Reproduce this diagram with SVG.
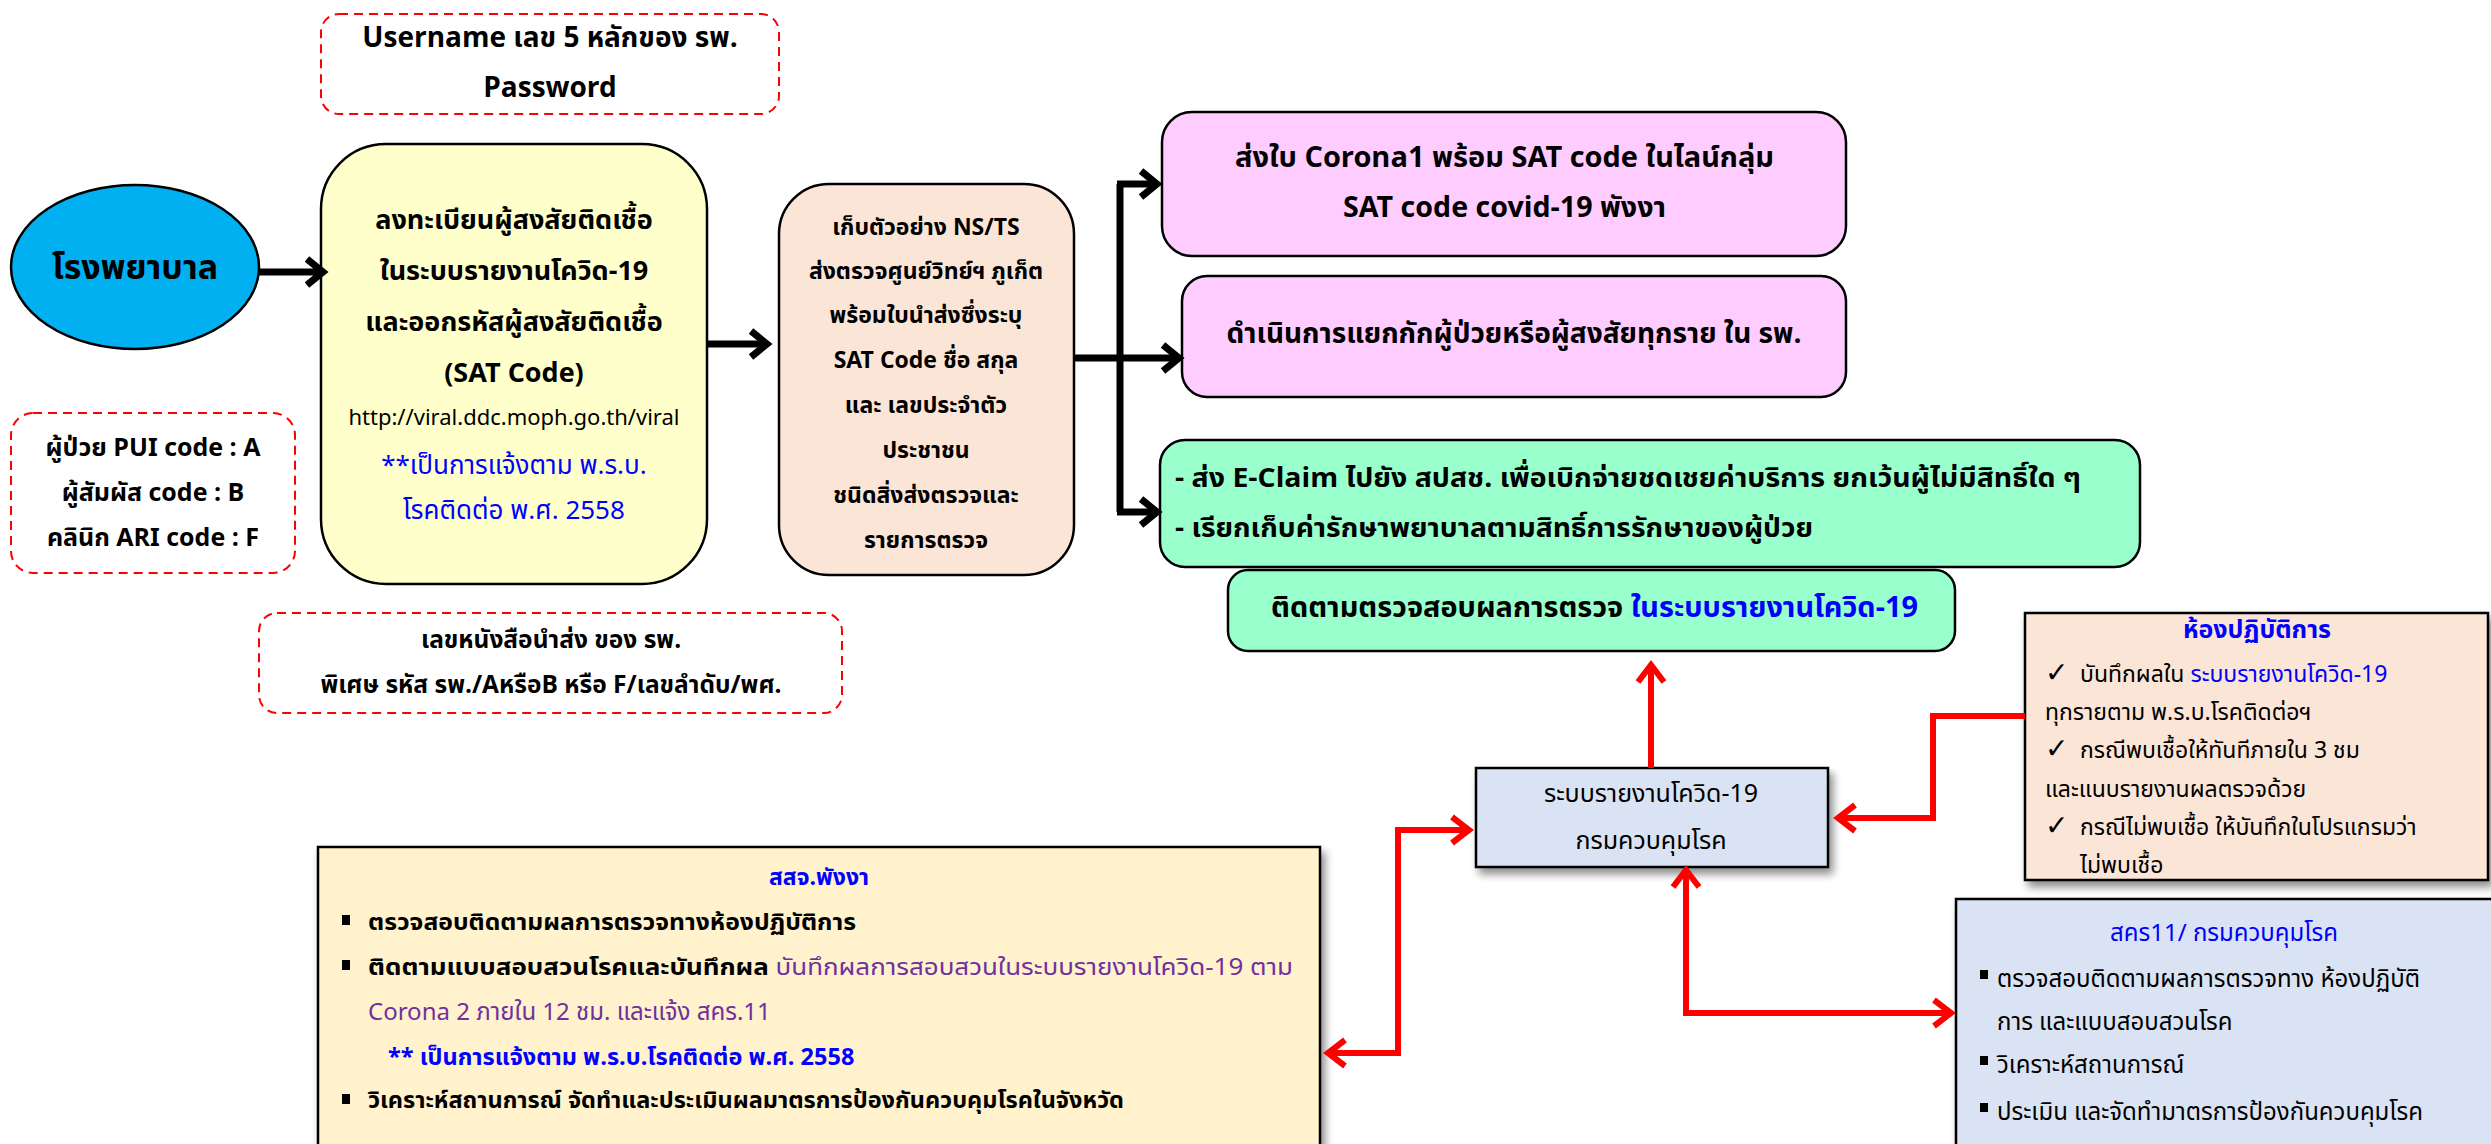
<svg xmlns="http://www.w3.org/2000/svg" width="2491" height="1144" viewBox="0 0 2491 1144">
<defs>
<style>
text{font-family:"Noto Sans Thai","Noto Sans Thai UI","Noto Sans","DejaVu Sans",sans-serif;fill:#000}
.b{font-weight:bold}
.n{font-weight:normal}
.c{text-anchor:middle}
.blue{fill:#0000FF}
.pur{fill:#7030A0}
.dash{fill:none;stroke:#FF0000;stroke-width:2;stroke-dasharray:9 6}
.box{stroke:#000;stroke-width:2.5}
.blk{fill:none;stroke:#000;stroke-width:7}
.red{fill:none;stroke:#FF0000;stroke-width:6}
</style>
<marker id="ab" viewBox="-30 -20 40 40" refX="0" refY="0" markerWidth="40" markerHeight="40" markerUnits="userSpaceOnUse" orient="auto-start-reverse" overflow="visible">
<path d="M-16,-13 L0,0 L-16,13" fill="none" stroke="#000" stroke-width="7"/>
</marker>
<marker id="ar" viewBox="-30 -20 40 40" refX="0" refY="0" markerWidth="40" markerHeight="40" markerUnits="userSpaceOnUse" orient="auto-start-reverse" overflow="visible">
<path d="M-17,-13 L0,0 L-17,13" fill="none" stroke="#FF0000" stroke-width="6"/>
</marker>
<filter id="sh" x="-5%" y="-5%" width="115%" height="125%">
<feGaussianBlur in="SourceAlpha" stdDeviation="4"/>
<feOffset dx="4" dy="6" result="o"/>
<feComponentTransfer><feFuncA type="linear" slope="0.45"/></feComponentTransfer>
<feMerge><feMergeNode/><feMergeNode in="SourceGraphic"/></feMerge>
</filter>
</defs>
<rect width="2491" height="1144" fill="#fff"/>

<g id="login-note">
<rect class="dash" x="321" y="14" width="458" height="100" rx="18"/>
<text class="c b" x="550" y="47" font-size="28">Username เลข 5 หลักของ รพ.</text>
<text class="c b" x="550" y="97" font-size="28">Password</text>
</g>

<g id="hospital">
<ellipse cx="135" cy="267" rx="124" ry="82" fill="#00B0F0" stroke="#000" stroke-width="2.5"/>
<text class="c b" x="135" y="279" font-size="34">โรงพยาบาล</text>
</g>

<g id="code-note">
<rect class="dash" x="11" y="413" width="284" height="160" rx="22"/>
<text class="c b" x="153" y="456" font-size="25">ผู้ป่วย PUI code : A</text>
<text class="c b" x="153" y="501" font-size="25">ผู้สัมผัส code : B</text>
<text class="c b" x="153" y="546" font-size="25">คลินิก ARI code : F</text>
</g>

<g id="register">
<rect class="box" x="321" y="144" width="386" height="440" rx="65" fill="#FFFFCC"/>
<text class="c b" x="514" y="229" font-size="27">ลงทะเบียนผู้สงสัยติดเชื้อ</text>
<text class="c b" x="514" y="280" font-size="27">ในระบบรายงานโควิด-19</text>
<text class="c b" x="514" y="331" font-size="27">และออกรหัสผู้สงสัยติดเชื้อ</text>
<text class="c b" x="514" y="382" font-size="27">(SAT Code)</text>
<text class="c" x="514" y="425" font-size="22">http://viral.ddc.moph.go.th/viral</text>
<text class="c blue" x="514" y="474" font-size="26">**เป็นการแจ้งตาม พ.ร.บ.</text>
<text class="c blue" x="514" y="519" font-size="26">โรคติดต่อ พ.ศ. 2558</text>
</g>

<g id="letter-note">
<rect class="dash" x="259" y="613" width="583" height="100" rx="18"/>
<text class="c b" x="551" y="648" font-size="24.5">เลขหนังสือนำส่ง ของ รพ.</text>
<text class="c b" x="551" y="693" font-size="24.5">พิเศษ รหัส รพ./AหรือB หรือ F/เลขลำดับ/พศ.</text>
</g>

<g id="specimen">
<rect class="box" x="779" y="184" width="295" height="391" rx="50" fill="#FBE5D6"/>
<text class="c b" x="926" y="235" font-size="23">เก็บตัวอย่าง NS/TS</text>
<text class="c b" x="926" y="279" font-size="23">ส่งตรวจศูนย์วิทย์ฯ ภูเก็ต</text>
<text class="c b" x="926" y="323" font-size="23">พร้อมใบนำส่งซึ่งระบุ</text>
<text class="c b" x="926" y="368" font-size="23">SAT Code ชื่อ สกุล</text>
<text class="c b" x="926" y="413" font-size="23">และ เลขประจำตัว</text>
<text class="c b" x="926" y="458" font-size="23">ประชาชน</text>
<text class="c b" x="926" y="503" font-size="23">ชนิดสิ่งส่งตรวจและ</text>
<text class="c b" x="926" y="548" font-size="23">รายการตรวจ</text>
</g>

<g id="line-group">
<rect class="box" x="1162" y="112" width="684" height="144" rx="30" fill="#FFCCFF"/>
<text class="b" x="1235" y="167" font-size="29" textLength="539" lengthAdjust="spacingAndGlyphs">ส่งใบ Corona1 พร้อม SAT code ในไลน์กลุ่ม</text>
<text class="b" x="1343" y="217" font-size="28" textLength="323" lengthAdjust="spacingAndGlyphs">SAT code covid-19 พังงา</text>
</g>

<g id="isolate">
<rect class="box" x="1182" y="276" width="664" height="121" rx="25" fill="#FFCCFF"/>
<text class="c b" x="1514" y="343" font-size="28">ดำเนินการแยกกักผู้ป่วยหรือผู้สงสัยทุกราย ใน รพ.</text>
</g>

<g id="claim">
<rect class="box" x="1160" y="440" width="980" height="127" rx="25" fill="#99FFCC"/>
<text class="b" x="1175" y="487" font-size="27" textLength="906" lengthAdjust="spacingAndGlyphs">- ส่ง E-Claim ไปยัง สปสช. เพื่อเบิกจ่ายชดเชยค่าบริการ ยกเว้นผู้ไม่มีสิทธิ์ใด ๆ</text>
<text class="b" x="1175" y="537" font-size="27" textLength="638" lengthAdjust="spacingAndGlyphs">- เรียกเก็บค่ารักษาพยาบาลตามสิทธิ์การรักษาของผู้ป่วย</text>
</g>

<g id="follow-up">
<rect class="box" x="1228" y="570" width="727" height="81" rx="20" fill="#99FFCC"/>
<text class="b" x="1271" y="617" font-size="28" textLength="647" lengthAdjust="spacingAndGlyphs">ติดตามตรวจสอบผลการตรวจ <tspan class="blue">ในระบบรายงานโควิด-19</tspan></text>
</g>

<g id="report-system">
<rect class="box" x="1476" y="768" width="352" height="99" fill="#DAE3F3" filter="url(#sh)"/>
<text class="c" x="1651" y="802" font-size="25">ระบบรายงานโควิด-19</text>
<text class="c" x="1651" y="849" font-size="25">กรมควบคุมโรค</text>
</g>

<g id="lab">
<rect class="box" x="2025" y="613" width="463" height="267" fill="#FBE5D6" filter="url(#sh)"/>
<text class="c b blue" x="2257" y="638" font-size="25">ห้องปฏิบัติการ</text>
<text class="b" x="2045" y="682" font-size="28">✓</text>
<text x="2080" y="682" font-size="23">บันทึกผลใน <tspan class="blue">ระบบรายงานโควิด-19</tspan></text>
<text x="2045" y="720" font-size="23">ทุกรายตาม พ.ร.บ.โรคติดต่อฯ</text>
<text class="b" x="2045" y="758" font-size="28">✓</text>
<text x="2080" y="758" font-size="23">กรณีพบเชื้อให้ทันทีภายใน 3 ชม</text>
<text x="2045" y="797" font-size="23">และแนบรายงานผลตรวจด้วย</text>
<text class="b" x="2045" y="835" font-size="28">✓</text>
<text x="2080" y="835" font-size="23">กรณีไม่พบเชื้อ ให้บันทึกในโปรแกรมว่า</text>
<text x="2080" y="873" font-size="23">ไม่พบเชื้อ</text>
</g>

<g id="provincial">
<rect class="box" x="318" y="847" width="1002" height="320" fill="#FFF2CC" filter="url(#sh)"/>
<text class="c b blue" x="819" y="885" font-size="23">สสจ.พังงา</text>
<rect x="342" y="915" width="8" height="10"/>
<text class="b" x="368" y="930" font-size="23.5" textLength="488" lengthAdjust="spacingAndGlyphs">ตรวจสอบติดตามผลการตรวจทางห้องปฏิบัติการ</text>
<rect x="342" y="960" width="8" height="10"/>
<text x="368" y="975" font-size="23.5" textLength="925" lengthAdjust="spacingAndGlyphs"><tspan class="b">ติดตามแบบสอบสวนโรคและบันทึกผล </tspan><tspan class="pur">บันทึกผลการสอบสวนในระบบรายงานโควิด-19 ตาม</tspan></text>
<text class="pur" x="368" y="1020" font-size="24">Corona 2 ภายใน 12 ชม. และแจ้ง สคร.11</text>
<text class="blue b" x="388" y="1065" font-size="23.5">** เป็นการแจ้งตาม พ.ร.บ.โรคติดต่อ พ.ศ. 2558</text>
<rect x="342" y="1094" width="8" height="10"/>
<text class="b" x="368" y="1108" font-size="23.5">วิเคราะห์สถานการณ์ จัดทำและประเมินผลมาตรการป้องกันควบคุมโรคในจังหวัด</text>
</g>

<g id="odpc">
<rect class="box" x="1956" y="899" width="560" height="280" fill="#DAE3F3" filter="url(#sh)"/>
<text class="c blue" x="2224" y="941" font-size="24">สคร11/ กรมควบคุมโรค</text>
<rect x="1980" y="970" width="8" height="9"/>
<text x="1997" y="987" font-size="24">ตรวจสอบติดตามผลการตรวจทาง ห้องปฏิบัติ</text>
<text x="1997" y="1030" font-size="24">การ และแบบสอบสวนโรค</text>
<rect x="1980" y="1056" width="8" height="9"/>
<text x="1997" y="1073" font-size="24">วิเคราะห์สถานการณ์</text>
<rect x="1980" y="1103" width="8" height="9"/>
<text x="1997" y="1120" font-size="24">ประเมิน และจัดทำมาตรการป้องกันควบคุมโรค</text>
</g>

<g id="connectors">
<path class="blk" d="M259,272 H323" marker-end="url(#ab)"/>
<path class="blk" d="M707,344 H767" marker-end="url(#ab)"/>
<path class="blk" d="M1074,358 H1179" marker-end="url(#ab)"/>
<path class="blk" d="M1120,184 V512"/>
<path class="blk" d="M1117,184 H1157" marker-end="url(#ab)"/>
<path class="blk" d="M1117,512 H1157" marker-end="url(#ab)"/>
<path class="red" d="M1651,768 V665" marker-end="url(#ar)"/>
<path class="red" d="M2025,716 H1933 V818 H1838" marker-end="url(#ar)"/>
<path class="red" d="M1469,830 H1398 V1053 H1328" marker-start="url(#ar)" marker-end="url(#ar)"/>
<path class="red" d="M1686,870 V1013 H1951" marker-start="url(#ar)" marker-end="url(#ar)"/>
</g>
</svg>
